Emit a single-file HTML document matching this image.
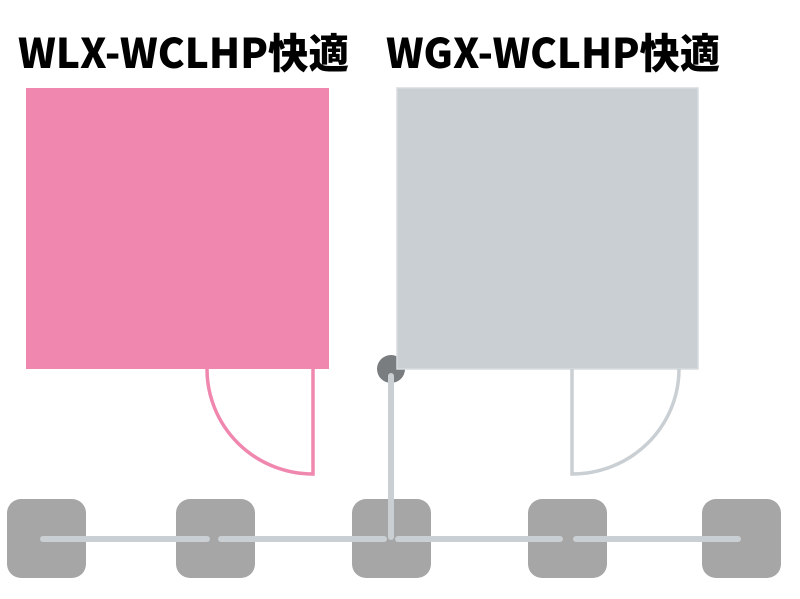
<!DOCTYPE html>
<html><head><meta charset="utf-8"><style>html,body{margin:0;padding:0;background:#fff;width:800px;height:599px;overflow:hidden}</style></head>
<body>
<svg width="800" height="599" viewBox="0 0 800 599" xmlns="http://www.w3.org/2000/svg">
<g font-family="'Noto Sans CJK JP', 'Liberation Sans', sans-serif" font-weight="900" font-size="41" fill="#000">
<text x="18" y="68" textLength="331" lengthAdjust="spacingAndGlyphs">WLX-WCLHP快適</text>
<text x="386" y="68" textLength="334" lengthAdjust="spacingAndGlyphs">WGX-WCLHP快適</text>
</g>
<rect x="26" y="88" width="303" height="281" fill="#f087ae"/>
<circle cx="391" cy="369" r="14" fill="#7a7d80"/>
<rect x="397" y="88" width="301" height="281" fill="#cacfd3" stroke="#d8dcdf" stroke-width="1.5"/>
<path d="M207,369 A106,105 0 0 0 313,474 L313,369" fill="none" stroke="#f087ae" stroke-width="3.5"/>
<path d="M679,369 A107,105 0 0 1 572,474 L572,369" fill="none" stroke="#cacfd3" stroke-width="3.5"/>
<g fill="#a5a6a5">
<rect x="7" y="499" width="79" height="79" rx="14"/>
<rect x="176" y="499" width="79" height="79" rx="14"/>
<rect x="352" y="499" width="79" height="79" rx="14"/>
<rect x="528" y="499" width="79" height="79" rx="14"/>
<rect x="702" y="499" width="79" height="79" rx="14"/>
</g>
<g stroke="#cacfd3" stroke-width="6" stroke-linecap="round">
<line x1="391" y1="376" x2="391" y2="537"/>
<line x1="43" y1="539" x2="207" y2="539"/>
<line x1="221" y1="539" x2="384" y2="539"/>
<line x1="398" y1="539" x2="560" y2="539"/>
<line x1="576" y1="539" x2="738" y2="539"/>
</g>
</svg>
</body></html>
